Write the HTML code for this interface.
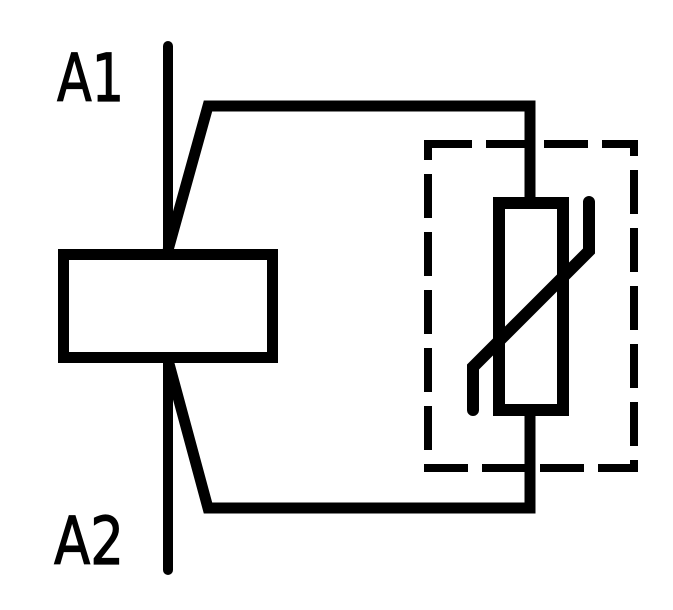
<!DOCTYPE html>
<html><head><style>html,body{margin:0;padding:0;background:#fff;}svg{display:block;}</style></head>
<body>
<svg width="673" height="610" viewBox="0 0 673 610" xmlns="http://www.w3.org/2000/svg">
<g fill="none" stroke="#000" stroke-linecap="round" stroke-linejoin="miter">
  <line x1="168" y1="46" x2="168" y2="250" stroke-width="10"/>
  <line x1="168" y1="360" x2="168" y2="570" stroke-width="10"/>
  <rect x="63.5" y="254.5" width="209" height="103" stroke-width="11"/>
  <polyline points="168,250 208,106 530,106 530,203" stroke-width="11" stroke-linecap="butt"/>
  <polyline points="168,360 208,508 530,508 530,410" stroke-width="11" stroke-linecap="butt"/>
  <rect x="499" y="203" width="64" height="207" stroke-width="12"/>
  <polyline points="473,410 473,367 589,251 589,202" stroke-width="12"/>
  <rect x="428" y="144" width="206" height="324" stroke-width="8" stroke-dasharray="44 14" stroke-linecap="butt"/>
</g>
<g font-family="'DejaVu Sans','Liberation Sans',sans-serif" font-size="66" fill="#000" stroke="#000" stroke-width="1.2">
  <text x="57" y="101" textLength="67" lengthAdjust="spacingAndGlyphs">A1</text>
  <text x="54" y="564" textLength="70" lengthAdjust="spacingAndGlyphs">A2</text>
</g>
</svg>
</body></html>
